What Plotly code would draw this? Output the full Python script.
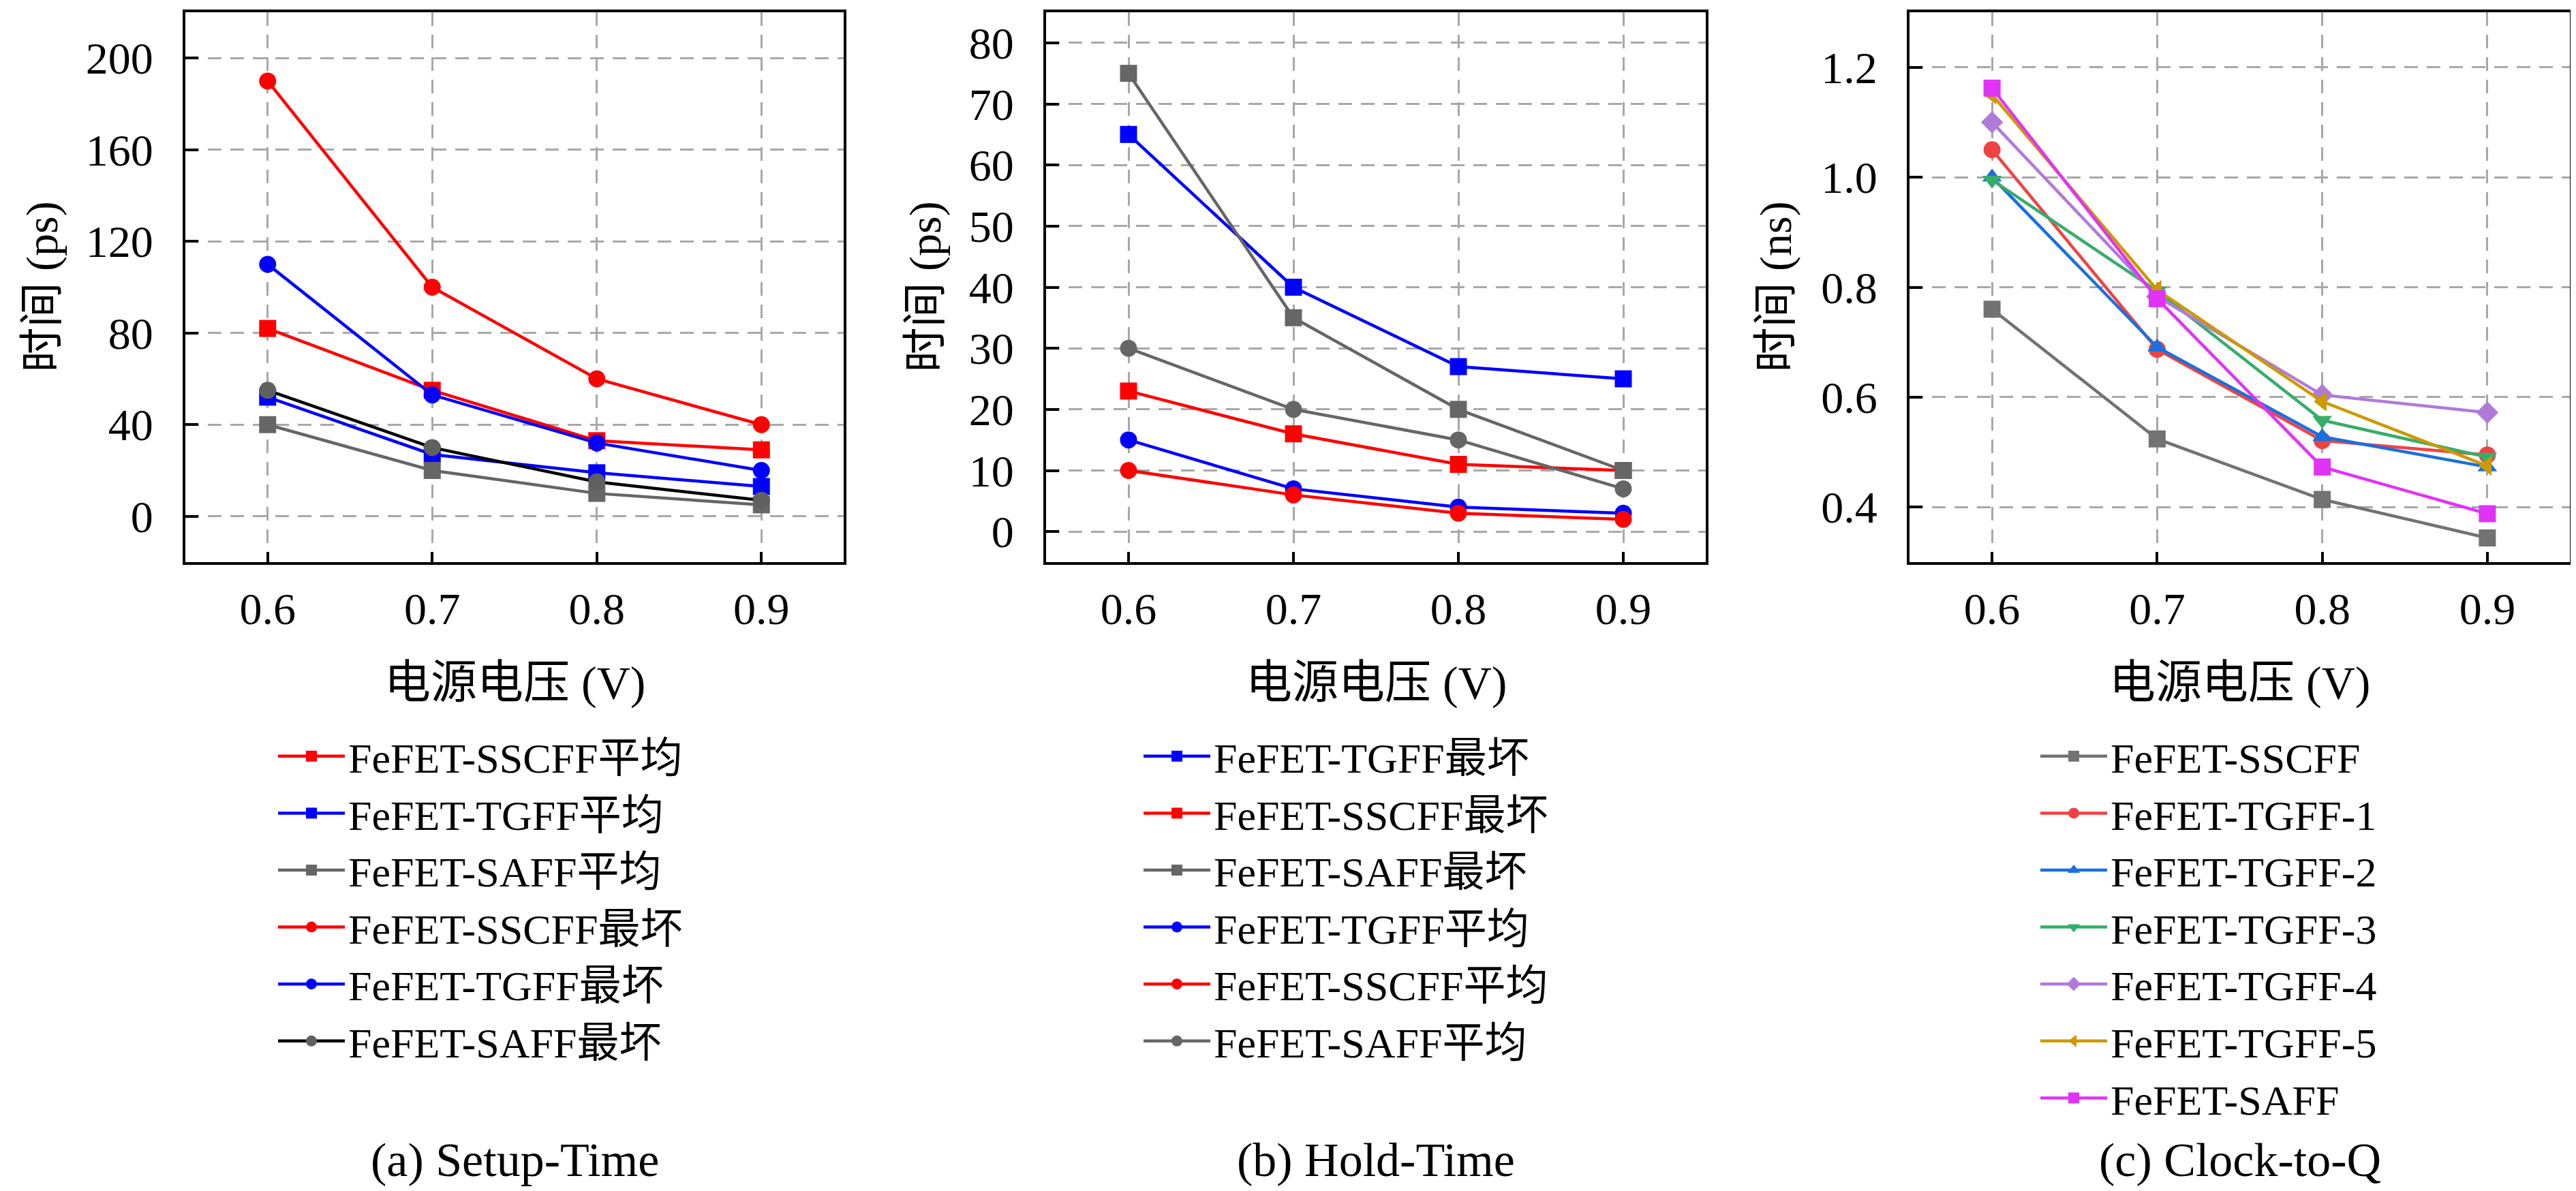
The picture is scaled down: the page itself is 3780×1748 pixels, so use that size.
import plotly.graph_objects as go

# supply voltage (V)
volts = [0.6, 0.7, 0.8, 0.9]

# (a) Setup-Time, ps
setup_sscff_avg = [82, 55, 33, 29]
setup_tgff_avg = [52, 27, 19, 13]
setup_saff_avg = [40, 20, 10, 5]
setup_sscff_worst = [190, 100, 60, 40]
setup_tgff_worst = [110, 53, 32, 20]
setup_saff_worst = [55, 30, 15, 7]

# (b) Hold-Time, ps
hold_tgff_worst = [65, 40, 27, 25]
hold_sscff_worst = [23, 16, 11, 10]
hold_saff_worst = [75, 35, 20, 10]
hold_tgff_avg = [15, 7, 4, 3]
hold_sscff_avg = [10, 6, 3, 2]
hold_saff_avg = [30, 20, 15, 7]

# (c) Clock-to-Q, ns
ctq_sscff = [0.76, 0.524, 0.414, 0.344]
ctq_tgff1 = [1.05, 0.687, 0.521, 0.495]
ctq_tgff2 = [1.0, 0.691, 0.528, 0.473]
ctq_tgff3 = [0.995, 0.793, 0.558, 0.491]
ctq_tgff4 = [1.1, 0.783, 0.604, 0.572]
ctq_tgff5 = [1.15, 0.795, 0.592, 0.475]
ctq_saff = [1.162, 0.779, 0.473, 0.388]

x_ticks = [0.6, 0.7, 0.8, 0.9]
captions = ["(a) Setup-Time", "(b) Hold-Time", "(c) Clock-to-Q"]
y_titles = ["时间 (ps)", "时间 (ps)", "时间 (ns)"]
x_title = "电源电压 (V)"

W, H = 3780, 1748
FONT = "'Liberation Serif', 'Noto Sans CJK SC', serif"
RED, BLUE, GRAY = "#ff0000", "#0000ff", "#666666"

fig = go.Figure()


def add(y, name, color, symbol, axis, legend, mcolor=None):
    fig.add_trace(go.Scatter(
        x=volts, y=y, name=name, mode="lines+markers",
        xaxis="x" + axis, yaxis="y" + axis, legend=legend,
        line=dict(color=color, width=4.5),
        marker=dict(symbol=symbol, size=25, color=mcolor or color),
    ))


add(setup_sscff_avg, "FeFET-SSCFF平均", RED, "square", "", "legend")
add(setup_tgff_avg, "FeFET-TGFF平均", BLUE, "square", "", "legend")
add(setup_saff_avg, "FeFET-SAFF平均", GRAY, "square", "", "legend")
add(setup_sscff_worst, "FeFET-SSCFF最坏", RED, "circle", "", "legend")
add(setup_tgff_worst, "FeFET-TGFF最坏", BLUE, "circle", "", "legend")
add(setup_saff_worst, "FeFET-SAFF最坏", "#000000", "circle", "", "legend", "#606060")

add(hold_tgff_worst, "FeFET-TGFF最坏", BLUE, "square", "2", "legend2")
add(hold_sscff_worst, "FeFET-SSCFF最坏", RED, "square", "2", "legend2")
add(hold_saff_worst, "FeFET-SAFF最坏", GRAY, "square", "2", "legend2")
add(hold_tgff_avg, "FeFET-TGFF平均", BLUE, "circle", "2", "legend2")
add(hold_sscff_avg, "FeFET-SSCFF平均", RED, "circle", "2", "legend2")
add(hold_saff_avg, "FeFET-SAFF平均", GRAY, "circle", "2", "legend2")

add(ctq_sscff, "FeFET-SSCFF", "#727272", "square", "3", "legend3")
add(ctq_tgff1, "FeFET-TGFF-1", "#f04242", "circle", "3", "legend3")
add(ctq_tgff2, "FeFET-TGFF-2", "#1a6fdf", "triangle-up", "3", "legend3")
add(ctq_tgff3, "FeFET-TGFF-3", "#37ad6b", "triangle-down", "3", "legend3")
add(ctq_tgff4, "FeFET-TGFF-4", "#b07ad9", "diamond", "3", "legend3")
add(ctq_tgff5, "FeFET-TGFF-5", "#cc9900", "triangle-left", "3", "legend3")
add(ctq_saff, "FeFET-SAFF", "#e033f5", "square", "3", "legend3")

# plot boxes in pixels: left, right edges; shared top/bottom
boxes = [(264, 1230), (1527, 2495), (2794, 3763)]
top_px, bot_px = 10, 817
y_ranges = [[-20, 220], [-5, 85], [0.3, 1.3]]
y_dticks = [40, 10, 0.2]
y_formats = ["d", "d", ".1f"]
ytitle_px = [54, 1350, 2598]
legend_x_px = [395, 1665, 2981]

axis_common = dict(
    showline=True, linecolor="black", linewidth=4, mirror=True,
    ticks="inside", tickcolor="black", tickwidth=4,
    showgrid=True, gridcolor="#a8a8a8", gridwidth=3, griddash="20px,13px",
    zeroline=False, tickfont=dict(family=FONT, size=66, color="black"),
)

layout = dict(
    width=W, height=H, margin=dict(l=0, r=0, t=0, b=0),
    paper_bgcolor="white", plot_bgcolor="white",
    font=dict(family=FONT, color="black"),
    annotations=[],
)

for i, (l, r) in enumerate(boxes):
    sfx = "" if i == 0 else str(i + 1)
    xa = dict(axis_common, domain=[l / W, r / W], range=[0.55, 0.95],
              tickvals=x_ticks, tickformat=".1f", ticklen=15,
              ticklabelstandoff=8, anchor="y" + sfx)
    ya = dict(axis_common, domain=[1 - bot_px / H, 1 - top_px / H],
              range=y_ranges[i], dtick=y_dticks[i], tick0=0,
              tickformat=y_formats[i], ticklen=19, ticklabelstandoff=30,
              anchor="x" + sfx)
    layout["xaxis" + sfx] = xa
    layout["yaxis" + sfx] = ya

    cx = (l + r) / 2 / W
    layout["annotations"].append(dict(
        text=x_title, x=cx, y=1 - 994 / H, xref="paper", yref="paper",
        showarrow=False, xanchor="center", yanchor="middle",
        font=dict(family=FONT, size=68)))
    layout["annotations"].append(dict(
        text=y_titles[i], x=ytitle_px[i] / W, y=1 - (top_px + bot_px) / 2 / H,
        xref="paper", yref="paper", showarrow=False, textangle=-90,
        xanchor="center", yanchor="middle", font=dict(family=FONT, size=66)))
    layout["annotations"].append(dict(
        text=captions[i], x=cx, y=1 - 1694 / H, xref="paper", yref="paper",
        showarrow=False, xanchor="center", yanchor="middle",
        font=dict(family=FONT, size=70)))

    layout["legend" + sfx] = dict(
        x=legend_x_px[i] / W, y=1 - 1055 / H, xanchor="left", yanchor="top",
        bgcolor="rgba(0,0,0,0)", itemwidth=98, traceorder="normal",
        font=dict(family=FONT, size=62, color="black"),
    )

fig.update_layout(**layout)
fig.write_html("out.html")
